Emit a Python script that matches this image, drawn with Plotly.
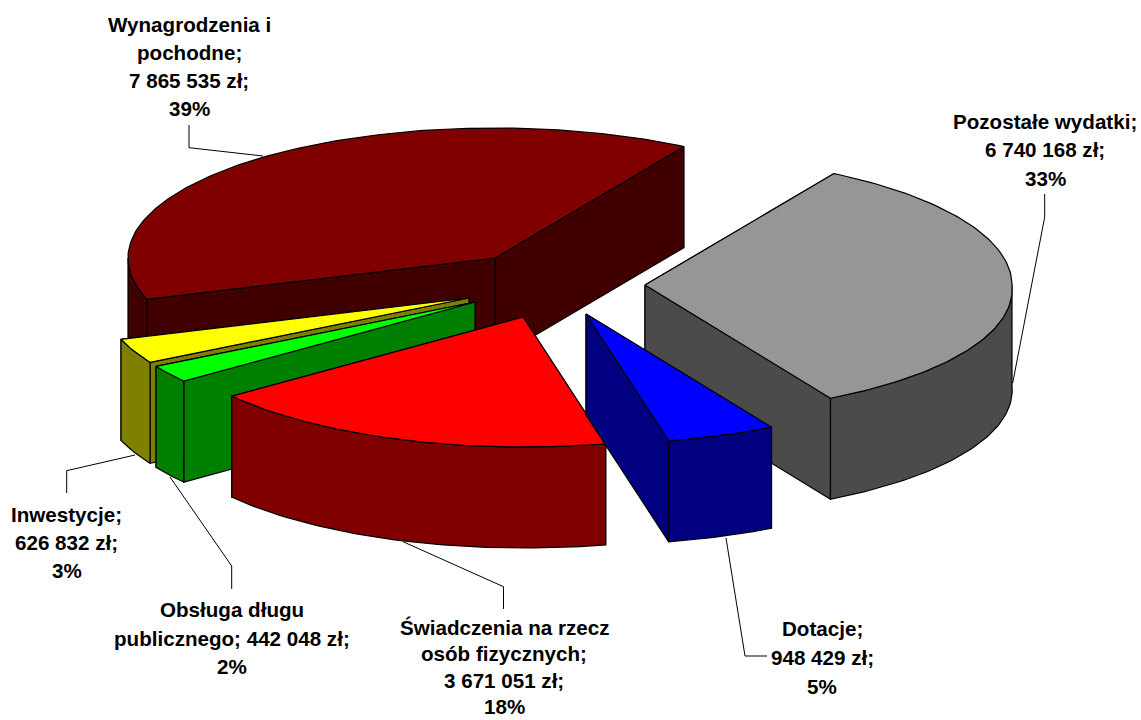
import math
import plotly.graph_objects as go

# --- data ---
categories = ["Pozostałe wydatki", "Dotacje", "Świadczenia na rzecz osób fizycznych",
              "Obsługa długu publicznego", "Inwestycje", "Wynagrodzenia i pochodne"]
values = [6740168, 948429, 3671051, 442048, 626832, 7865535]
label_lines = [
    ["Pozostałe wydatki;", "6 740 168 zł;", "33%"],
    ["Dotacje;", "948 429 zł;", "5%"],
    ["Świadczenia na rzecz", "osób fizycznych;", "3 671 051 zł;", "18%"],
    ["Obsługa długu", "publicznego; 442 048 zł;", "2%"],
    ["Inwestycje;", "626 832 zł;", "3%"],
    ["Wynagrodzenia i", "pochodne;", "7 865 535 zł;", "39%"],
]

# --- styling and layout (pixel-space chart) ---
top_colors = ["#969696", "#0000ff", "#ff0000", "#00ff00", "#ffff00", "#800000"]
side_colors = ["#4b4b4b", "#000080", "#800000", "#008000", "#808000", "#400000"]
apexes = [(645, 285), (586, 314), (523, 317), (475, 302), (469, 298), (495, 258)]
label_x = [1045, 822, 504, 232, 66.5, 189]
label_y = [[121, 149, 178], [628, 657, 686], [627, 653, 680, 706],
           [609, 638, 666], [514, 542, 570], [24, 52, 80, 108]]
leaders = [
    [(1044.7, 194), (1044.7, 217), (1012.7, 383)],
    [(767, 656), (745, 656), (726, 538)],
    [(503.5, 609), (503.5, 586.7), (403, 541.7)],
    [(231.7, 589), (231.7, 566), (170, 477)],
    [(66.7, 493), (66.7, 470.7), (135, 455)],
    [(189, 125), (189, 147.7), (263, 156)],
]
RX, RY, DEPTH = 367, 130, 101
NEAR_RIGHT_BULGE = 6   # slight perspective widening of the near-right quadrant
START_ANGLE = 31.0
DRAW_ORDER = [5, 0, 4, 3, 2, 1]

total = sum(values)


def rim(apex, t, drop=0):
    a = math.radians(t)
    bulge = NEAR_RIGHT_BULGE * math.sin(math.radians(2 * (t - 90))) if 90 < t < 180 else 0
    return apex[0] + RX * math.sin(a) + bulge, apex[1] - RY * math.cos(a) + drop


def arc(apex, t0, t1, drop=0):
    n = max(2, int(abs(t1 - t0)) + 1)
    return [rim(apex, t0 + (t1 - t0) * i / (n - 1), drop) for i in range(n)]


fig = go.Figure()


def poly(pts, color):
    xs = [p[0] for p in pts] + [pts[0][0]]
    ys = [p[1] for p in pts] + [pts[0][1]]
    fig.add_trace(go.Scatter(x=xs, y=ys, mode="lines", fill="toself", fillcolor=color,
                             line=dict(color="black", width=1.2), hoverinfo="skip",
                             showlegend=False))


for seg in leaders:
    fig.add_trace(go.Scatter(x=[p[0] for p in seg], y=[p[1] for p in seg], mode="lines",
                             line=dict(color="black", width=1), hoverinfo="skip",
                             showlegend=False))

# angular spans from the values
spans = []
t = START_ANGLE
for v in values:
    spans.append((t, t + v / total * 360))
    t += v / total * 360

for i in DRAW_ORDER:
    apex = apexes[i]
    t0, t1 = spans[i]
    side, top = side_colors[i], top_colors[i]
    low = (apex[0], apex[1] + DEPTH)
    # radial faces: back one first
    faces = sorted([t0, t1], key=lambda a: rim(apex, a)[1])
    for a in faces:
        p = rim(apex, a)
        poly([apex, p, (p[0], p[1] + DEPTH), low], side)
    # outer wall: only the near half of the rim is visible
    w0, w1 = max(t0, 90), min(t1, 270)
    if w1 > w0:
        poly(arc(apex, w0, w1) + arc(apex, w1, w0, DEPTH), side)
    # top
    poly([apex] + arc(apex, t0, t1), top)

annotations = []
for lines, x, ys in zip(label_lines, label_x, label_y):
    for line, y in zip(lines, ys):
        annotations.append(dict(x=x, y=y, text=f"<b>{line}</b>", showarrow=False,
                                xanchor="center", yanchor="middle",
                                font=dict(family="Liberation Sans, Arial", size=20.6, color="black")))

fig.update_layout(
    width=1141, height=720, margin=dict(l=0, r=0, t=0, b=0),
    paper_bgcolor="white", plot_bgcolor="white", showlegend=False,
    xaxis=dict(range=[0, 1141], visible=False, fixedrange=True),
    yaxis=dict(range=[720, 0], visible=False, fixedrange=True),
    annotations=annotations,
)
fig.write_html("out.html", config=dict(displayModeBar=False),
               post_script="document.body.style.margin='0';document.documentElement.style.overflow='hidden';")
